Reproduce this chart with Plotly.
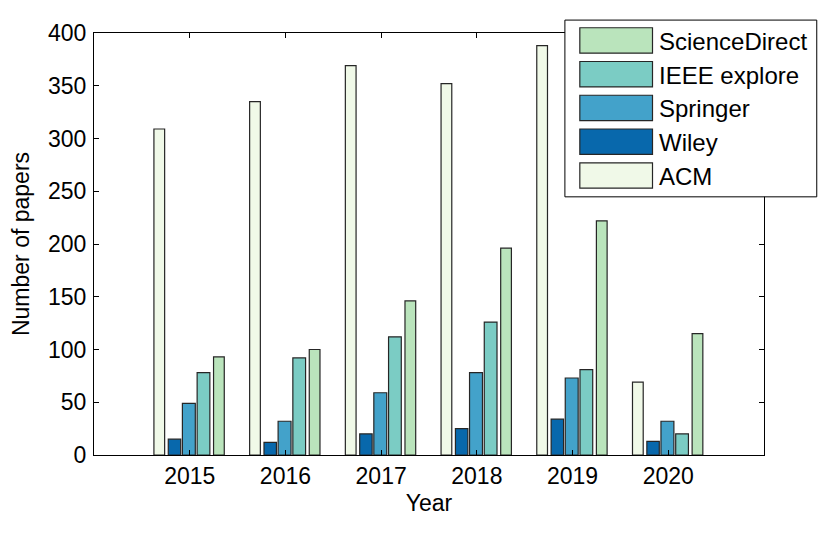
import plotly.graph_objects as go

years = [2015, 2016, 2017, 2018, 2019, 2020]
series_names = ["ACM", "Wiley", "Springer", "IEEE explore", "ScienceDirect"]
acm = [309, 335, 369, 352, 388, 69]
wiley = [15, 12, 20, 25, 34, 13]
springer = [49, 32, 59, 78, 73, 32]
ieee = [78, 92, 112, 126, 81, 20]
sciencedirect = [93, 100, 146, 196, 222, 115]
y_ticks = [0, 50, 100, 150, 200, 250, 300, 350, 400]

values = [acm, wiley, springer, ieee, sciencedirect]
colors = ["#f0f9e8", "#0868ac", "#43a2ca", "#7bccc4", "#bae4bc"]
centers = [-0.318, -0.159, -0.009, 0.144, 0.305]
widths = [0.112, 0.130, 0.135, 0.133, 0.112]

FONT = "Liberation Sans, Arial, Helvetica, sans-serif"
PAGE_OFF = 8  # default body margin of the html page
W, H = 830 - PAGE_OFF, 535 - PAGE_OFF
# target plot area in page pixels: left 91, right 764, top 30, bottom 455
L = 91 - PAGE_OFF
T = 30 - PAGE_OFF
R = W - (764 - PAGE_OFF)
B = H - (455 - PAGE_OFF)
pw, ph = W - L - R, H - T - B

fig = go.Figure()
for name, vals, col, c, w in zip(series_names, values, colors, centers, widths):
    fig.add_trace(go.Bar(
        x=years, y=vals, name=name,
        offset=c - w / 2, width=w,
        marker=dict(color=col, line=dict(color="#262626", width=1.2)),
        showlegend=False,
    ))

def px2x(px):
    return (px - PAGE_OFF - L) / pw

def py2y(py):
    return (H - B - (py - PAGE_OFF)) / ph

shapes = []
annotations = []
# legend box
shapes.append(dict(type="rect", xref="paper", yref="paper",
                   x0=px2x(564), x1=px2x(817), y0=py2y(195), y1=py2y(17),
                   line=dict(color="#000000", width=1), fillcolor="white", layer="above"))
legend_order = list(range(len(series_names)))[::-1]
for i, idx in enumerate(legend_order):
    cy = 37.5 + i * 34
    shapes.append(dict(type="rect", xref="paper", yref="paper",
                       x0=px2x(579), x1=px2x(652), y0=py2y(cy + 12.8), y1=py2y(cy - 12.8),
                       line=dict(color="#262626", width=1.2), fillcolor=colors[idx], layer="above"))
    annotations.append(dict(xref="paper", yref="paper", x=px2x(657), y=py2y(cy + 1),
                            text=series_names[idx], showarrow=False, xanchor="left", yanchor="middle",
                            font=dict(family=FONT, size=24, color="black")))

fig.update_layout(
    width=W, height=H,
    margin=dict(l=L, r=R, t=T, b=B, pad=0),
    paper_bgcolor="white", plot_bgcolor="white",
    barmode="overlay",
    font=dict(family=FONT, size=23, color="black"),
    shapes=shapes, annotations=annotations,
    xaxis=dict(range=[2014, 2021], tickvals=years, ticktext=[str(y) for y in years],
               ticks="inside", ticklen=5, tickcolor="black", mirror="allticks",
               showline=True, linecolor="black", linewidth=1, showgrid=False, zeroline=False,
               title=dict(text="Year", standoff=7, font=dict(size=23))),
    yaxis=dict(range=[0, 400], tickvals=y_ticks,
               ticks="inside", ticklen=5, tickcolor="black", mirror="allticks",
               showline=True, linecolor="black", linewidth=1, showgrid=False, zeroline=False,
               ticklabelstandoff=2,
               title=dict(text="Number of papers", standoff=12, font=dict(size=23))),
)

fig.write_html("out.html")
